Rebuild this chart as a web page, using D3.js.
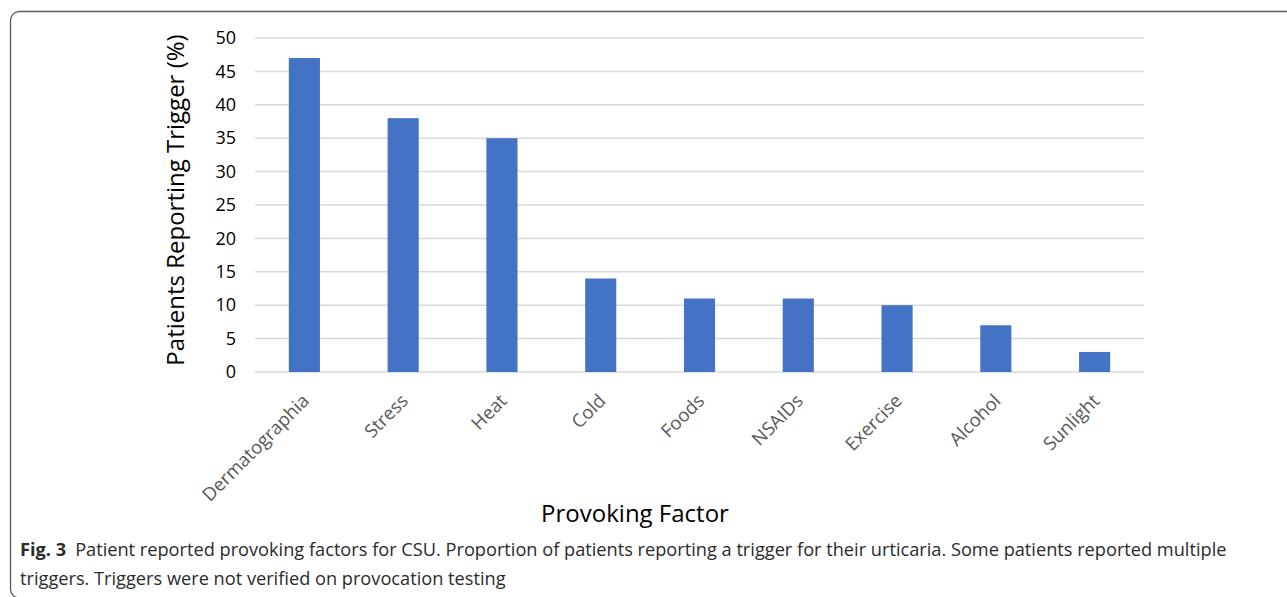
<!DOCTYPE html>
<html>
<head>
<meta charset="utf-8">
<script src="https://cdn.jsdelivr.net/npm/d3@7"></script>
<style>
body { margin: 0; background: #fff; }
</style>
</head>
<body>
<div id="chart1"></div>
<script>
var factors = ["Dermatographia", "Stress", "Heat", "Cold", "Foods", "NSAIDs", "Exercise", "Alcohol", "Sunlight"];
var percents = [47, 38, 35, 14, 11, 11, 10, 7, 3];
var yTicks = [0, 5, 10, 15, 20, 25, 30, 35, 40, 45, 50];

var w = 1287;
var h = 597;

var svg = d3.select("#chart1")
    .append("svg")
    .attr("width", w)
    .attr("height", h);

// frame round the figure (bottom and right edges run off the page)
svg.append("rect")
    .attr("x", 10.5)
    .attr("y", 11.5)
    .attr("width", 1300)
    .attr("height", 586.5)
    .attr("rx", 9)
    .attr("fill", "none")
    .attr("stroke", "#5a5a5a")
    .attr("stroke-width", 1.3);

var xScale = d3.scaleBand()
    .domain(factors)
    .range([255, 1144])
    .paddingInner(0.685)
    .paddingOuter(0.3425);

var yScale = d3.scaleLinear()
    .domain([0, 50])
    .range([372, 38]);

// gridlines
svg.append("g")
    .selectAll("line")
    .data(yTicks)
    .enter()
    .append("line")
    .attr("x1", 255)
    .attr("x2", 1144)
    .attr("y1", function(d) { return yScale(d); })
    .attr("y2", function(d) { return yScale(d); })
    .attr("stroke", "#d9d9d9")
    .attr("stroke-width", 1.5);

// y axis labels
var yAxis = svg.append("g")
    .attr("transform", "translate(255,0)")
    .call(d3.axisLeft(yScale).tickValues(yTicks).tickSize(0).tickPadding(19));
yAxis.select(".domain").remove();
yAxis.selectAll("text")
    .attr("font-family", "Open Sans, sans-serif")
    .attr("font-size", 18)
    .attr("fill", "#000");

// bars
svg.append("g")
    .selectAll("rect")
    .data(percents)
    .enter()
    .append("rect")
    .attr("x", function(d, i) { return xScale(factors[i]); })
    .attr("y", function(d) { return yScale(d); })
    .attr("width", xScale.bandwidth())
    .attr("height", function(d) { return yScale(0) - yScale(d); })
    .attr("fill", "#4472c4");

// x axis labels
var xAxis = svg.append("g")
    .attr("transform", "translate(0,372)")
    .call(d3.axisBottom(xScale).tickSize(0).tickPadding(0));
xAxis.select(".domain").remove();
xAxis.selectAll("text")
    .attr("font-family", "Open Sans, sans-serif")
    .attr("font-size", 18.5)
    .attr("fill", "#595959")
    .attr("text-anchor", "end")
    .attr("dy", 0)
    .attr("transform", "translate(6,30) rotate(-45)");

// axis titles
svg.append("text")
    .attr("transform", "rotate(-90)")
    .attr("x", -200)
    .attr("y", 184)
    .attr("text-anchor", "middle")
    .attr("font-family", "Open Sans, sans-serif")
    .attr("font-size", 24)
    .attr("fill", "#000")
    .text("Patients Reporting Trigger (%)");

svg.append("text")
    .attr("x", 635)
    .attr("y", 522)
    .attr("text-anchor", "middle")
    .attr("font-family", "Open Sans, sans-serif")
    .attr("font-size", 24)
    .attr("fill", "#000")
    .text("Provoking Factor");

// caption
var cap = svg.append("text")
    .attr("x", 20)
    .attr("y", 556)
    .attr("font-family", "Open Sans, sans-serif")
    .attr("font-size", 18.2)
    .attr("fill", "#2b2b2b");
cap.append("tspan")
    .attr("font-weight", "bold")
    .text("Fig. 3");
cap.append("tspan")
    .attr("dx", 9)
    .text("Patient reported provoking factors for CSU. Proportion of patients reporting a trigger for their urticaria. Some patients reported multiple");

svg.append("text")
    .attr("x", 20)
    .attr("y", 585)
    .attr("font-family", "Open Sans, sans-serif")
    .attr("font-size", 18.2)
    .attr("fill", "#2b2b2b")
    .text("triggers. Triggers were not verified on provocation testing");
</script>
</body>
</html>
